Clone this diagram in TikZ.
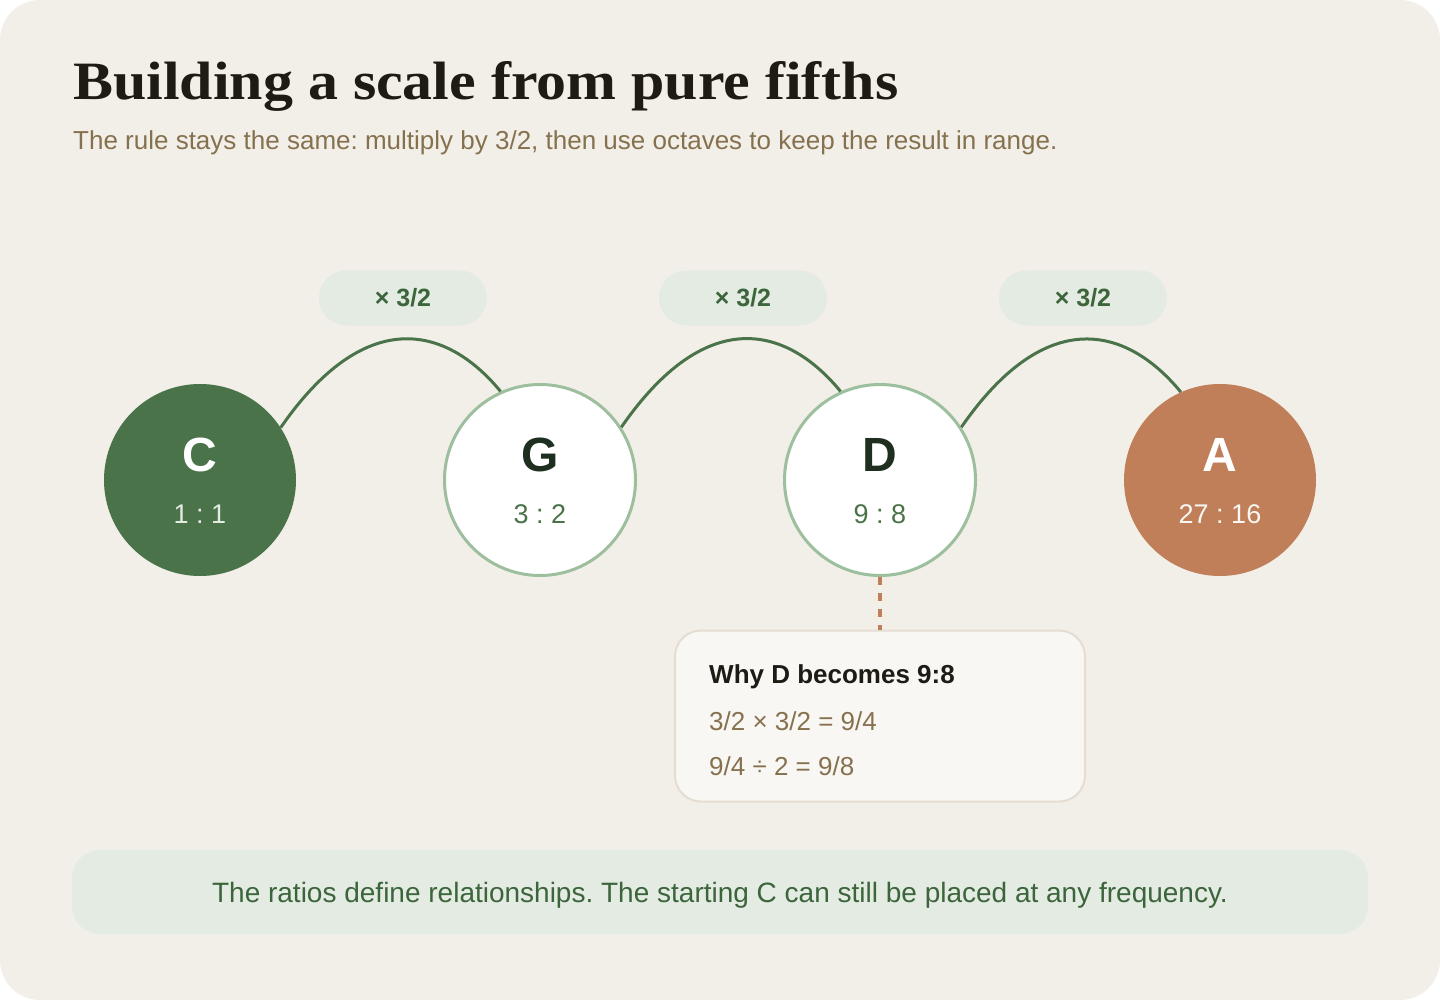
\documentclass[tikz,border=0pt]{standalone}
\usepackage{fontspec}
\setmainfont{Liberation Sans}
\newfontfamily\titlefont{Liberation Serif}
\usetikzlibrary{calc,positioning}
\frenchspacing

\definecolor{paper}{HTML}{F2EFE8}
\definecolor{ink}{HTML}{1E1A14}
\definecolor{pine}{HTML}{1F2F1F}
\definecolor{umber}{HTML}{86714F}
\definecolor{fern}{HTML}{4A7349}
\definecolor{deepfern}{HTML}{3C653B}
\definecolor{sage}{HTML}{9DBF9E}
\definecolor{mist}{HTML}{E3EBE2}
\definecolor{clay}{HTML}{C17F59}
\definecolor{card}{HTML}{F9F7F3}
\definecolor{cardline}{HTML}{E5DDD2}

\begin{document}
\begin{tikzpicture}[x=1pt,y=-1pt,
		note/.style={circle,minimum size=192pt,inner sep=0pt},
		root/.style={fill=fern},
		mid/.style={fill=white,draw=sage,line width=3pt,minimum size=191pt},
		goal/.style={fill=clay},
		pill/.style={fill=mist,rounded corners=27.5pt,minimum width=168pt,minimum height=55pt,
			text=deepfern,font=\bfseries\fontsize{25}{28}\selectfont},
		arc/.style={draw=fern,line width=3pt},
		hint/.style={draw=clay,line width=3.5pt,dash pattern=on 8pt off 8pt},
		line/.style={anchor=base west,inner sep=0pt,font=\fontsize{26}{30}\selectfont}]
	\useasboundingbox (0,0) rectangle (1440,1000);
	\fill[white] (0,0) rectangle (1440,1000);
	\fill[paper,rounded corners=40pt] (0,0) rectangle (1440,1000);
	
	\node[anchor=base west,inner sep=0pt,text=ink,font=\titlefont\bfseries\fontsize{54}{60}\selectfont] (title) at (73,100) {\scalebox{1.11}[1]{Building a scale from pure fifths}};
	\node[anchor=base west,inner sep=0pt,text=umber,font=\fontsize{26}{30}\selectfont] (sub) at (73,150) {The rule stays the same: multiply by 3/2, then use octaves to keep the result in range.};
	
	\foreach \x/\name/\ratio/\sty/\lc/\rc in {0/C/1 : 1/root/white/mist,1/G/3 : 2/mid/pine/fern,2/D/9 : 8/mid/pine/fern,3/A/27 : 16/goal/white/card} {
		\node[note,\sty] (n\x) at ($(200,480)+340*(\x,0)$) {};
		\node[text=\lc,font=\bfseries\fontsize{48}{52}\selectfont] (l\x) at ($(n\x)+(0,-25)$) {\name};
		\node[text=\rc,font=\fontsize{27}{30}\selectfont] (r\x) at ($(n\x)+(0,34)$) {\ratio};
	};
	
	\foreach \x [evaluate=\x as \nx using int(\x+1)] in {0,1,2} {
		\draw[arc] (n\x.33) .. controls +(83,-120) and +(-56,-68) .. (n\nx.114);
		\node[pill] (p\x) at ($(n\x)!0.5!(n\nx)+(33,-182)$) {× 3/2};
	};
	
	\node[draw=cardline,fill=card,line width=2pt,rounded corners=26pt,minimum width=410pt,minimum height=171pt] (why) at (880,716) {};
	\draw[hint] (n2.south) -- (why.north);
	\node[line,text=ink,font=\bfseries\fontsize{26}{30}\selectfont] (whyhead) at ($(why.north west)+(35,54)$) {Why D becomes 9:8};
	\node[line,text=umber] (step1) at ($(whyhead.base west)+(0,47)$) {3/2 × 3/2 = 9/4};
	\node[line,text=umber] (step2) at ($(step1.base west)+(0,45)$) {9/4 ÷ 2 = 9/8};
	
	\node[fill=mist,rounded corners=28pt,minimum width=1296pt,minimum height=84pt] (bar) at (720,892) {};
	\node[anchor=base,inner sep=0pt,text=deepfern,font=\fontsize{28}{32}\selectfont] (moral) at ($(bar.center)+(0,10)$) {The ratios define relationships. The starting C can still be placed at any frequency.};
\end{tikzpicture}
\end{document}
